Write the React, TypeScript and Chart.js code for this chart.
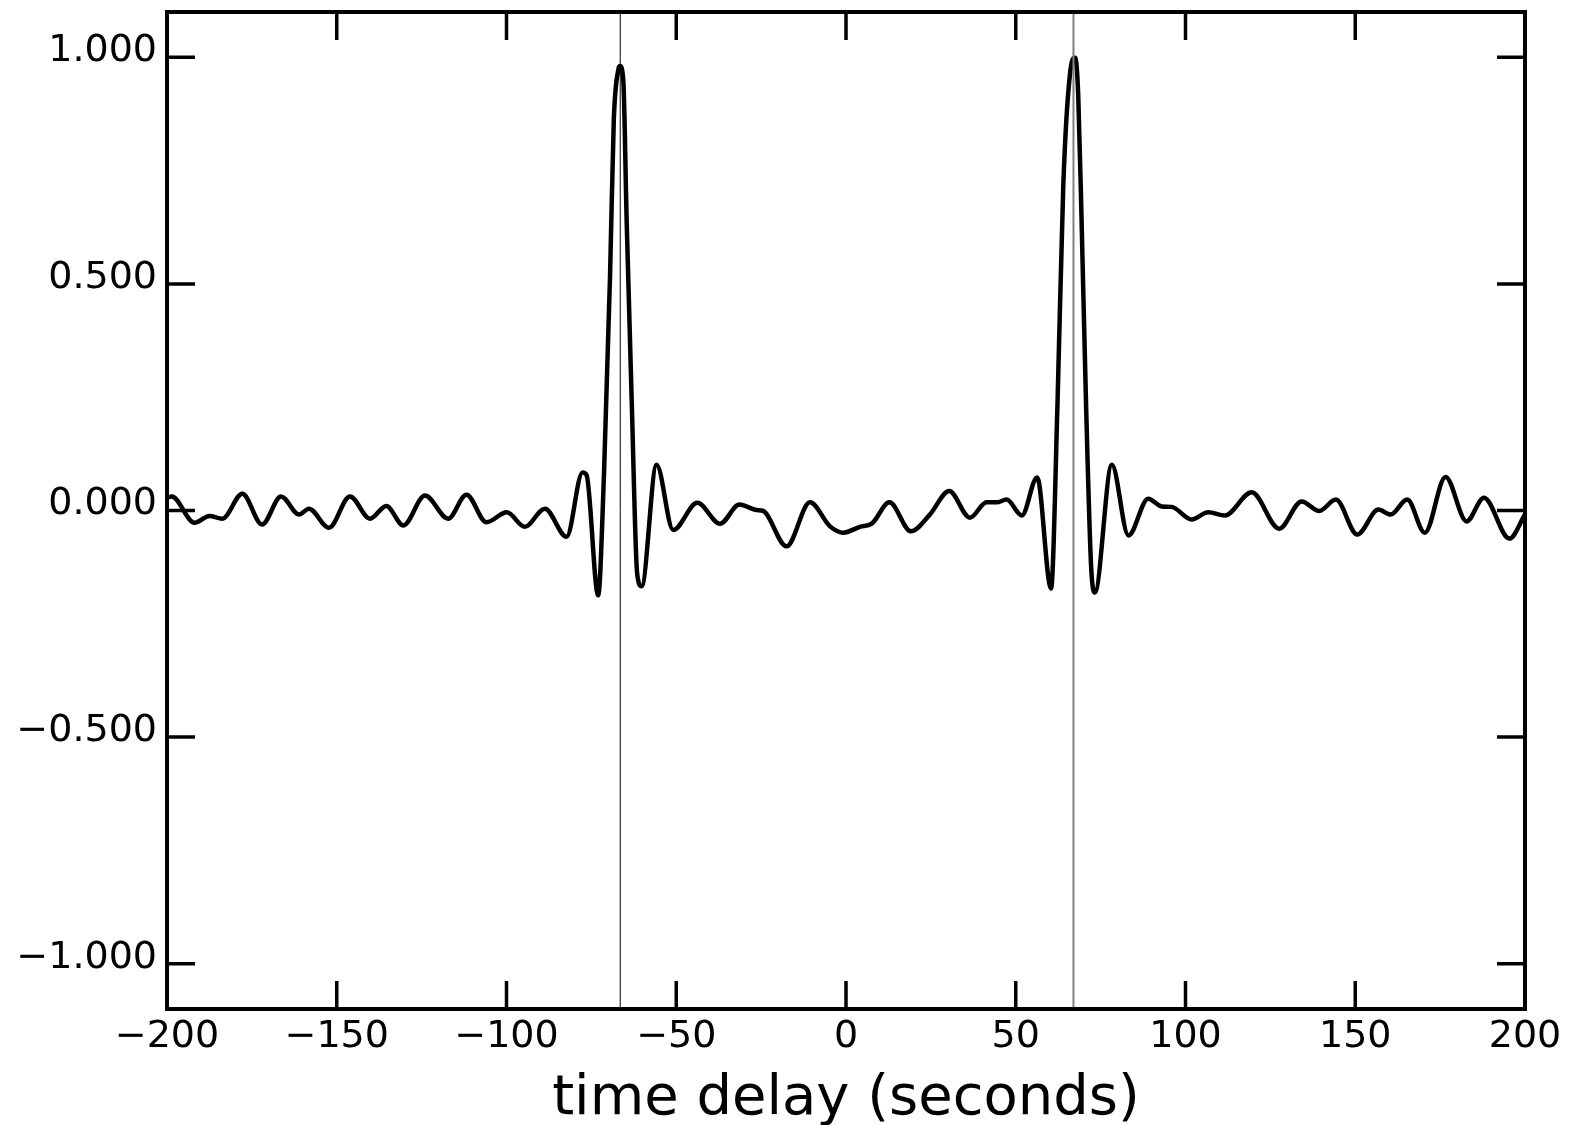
import React, { useEffect, useRef } from "react";
import { Chart, registerables } from "chart.js";

Chart.register(...registerables);

// ---- data ----
const timeDelay: number[] = [
  -200.0, -198.6, -191.9, -187.5, -183.7, -177.8, -172.0, -166.4, -161.1, -158.2,
  -152.3, -146.1, -140.2, -135.4, -130.4, -124.0, -117.2, -111.8, -105.9, -99.9,
  -94.6, -88.7, -82.3, -77.6, -76.4, -73.0, -71.3, -69.5, -68.4, -67.0,
  -66.6, -65.6, -64.6, -63.1, -61.5, -60.2, -55.8, -50.9, -43.8, -37.1,
  -31.4, -26.3, -24.4, -17.5, -10.6, -4.7, -0.8, 4.1, 7.6, 12.8,
  19.1, 24.7, 30.4, 36.5, 41.4, 44.4, 47.3, 51.8, 56.3, 60.4,
  62.3, 64.0, 66.0, 67.5, 68.4, 69.4, 70.7, 72.2, 73.3, 78.3,
  83.2, 89.0, 93.0, 95.9, 101.8, 106.7, 111.6, 119.5, 127.6, 134.2,
  139.4, 144.3, 150.6, 156.8, 160.4, 165.3, 170.5, 176.6, 182.8, 187.9,
  195.4, 200.0,
];
const correlation: number[] = [
  0.028, 0.031, -0.027, -0.012, -0.018, 0.037, -0.031, 0.031, -0.009, 0.004,
  -0.038, 0.031, -0.018, 0.01, -0.033, 0.033, -0.018, 0.035, -0.026, -0.004,
  -0.036, 0.004, -0.058, 0.084, 0.078, -0.187, 0.077, 0.518, 0.861, 0.975,
  0.981, 0.949, 0.637, 0.237, -0.14, -0.167, 0.101, -0.043, 0.017, -0.029,
  0.013, 0.001, -0.001, -0.079, 0.018, -0.035, -0.049, -0.036, -0.029, 0.018,
  -0.046, -0.009, 0.043, -0.016, 0.018, 0.018, 0.024, -0.011, 0.073, -0.172,
  0.237, 0.717, 0.965, 0.999, 0.917, 0.637, 0.237, -0.123, -0.181, 0.101,
  -0.055, 0.026, 0.009, 0.008, -0.02, -0.004, -0.011, 0.04, -0.04, 0.02,
  -0.001, 0.024, -0.053, 0.002, -0.009, 0.024, -0.049, 0.074, -0.024, 0.028,
  -0.062, -0.009,
];
const markerDelays: number[] = [-66.5, 67.0];
const markerColors: string[] = ["#000000", "#808080"];
const markerWidths: number[] = [1, 2];
const xTicks: number[] = [-200, -150, -100, -50, 0, 50, 100, 150, 200];
const yTicks: number[] = [-1, -0.5, 0, 0.5, 1];
const xRange: number[] = [-200, 200];
const yRange: number[] = [-1.1, 1.1];
const xTitle = "time delay (seconds)";

const minus = (s: string) => s.replace("-", "\u2212");

const framePlugin = {
  id: "frameTicks",
  afterDatasetsDraw(chart: any) {
    const { ctx, chartArea, scales } = chart;
    const { left, right, top, bottom } = chartArea;
    const len = 28;
    ctx.save();
    ctx.strokeStyle = "#000";
    ctx.lineWidth = 3.5;
    ctx.lineCap = "butt";
    ctx.beginPath();
    for (const v of xTicks) {
      const px = scales.x.getPixelForValue(v);
      ctx.moveTo(px, bottom);
      ctx.lineTo(px, bottom - len);
      ctx.moveTo(px, top);
      ctx.lineTo(px, top + len);
    }
    for (const v of yTicks) {
      const py = scales.y.getPixelForValue(v);
      ctx.moveTo(left, py);
      ctx.lineTo(left + len, py);
      ctx.moveTo(right, py);
      ctx.lineTo(right - len, py);
    }
    ctx.stroke();
    ctx.lineWidth = 4;
    ctx.strokeRect(left, top, right - left, bottom - top);
    ctx.restore();
  },
};

export default function App() {
  const ref = useRef<HTMLCanvasElement | null>(null);

  useEffect(() => {
    document.body.style.margin = "0";
    const canvas = ref.current;
    if (!canvas) return;

    const curve = timeDelay.map((x, i) => ({ x, y: correlation[i] }));
    const markerSets = markerDelays.map((d, i) => ({
      label: "marker" + i,
      data: [
        { x: d, y: yRange[0] },
        { x: d, y: yRange[1] },
      ],
      borderColor: markerColors[i],
      borderWidth: markerWidths[i],
      pointRadius: 0,
      fill: false,
      order: 0,
    }));

    const chart = new Chart(canvas, {
      type: "line",
      data: {
        datasets: [
          ...markerSets,
          {
            label: "correlation",
            data: curve,
            borderColor: "#000",
            borderWidth: 4.5,
            pointRadius: 0,
            fill: false,
            cubicInterpolationMode: "monotone",
            borderJoinStyle: "round",
            borderCapStyle: "round",
            order: 1,
          },
        ],
      } as any,
      options: {
        responsive: false,
        animation: false,
        devicePixelRatio: 1,
        layout: { padding: { top: 12, right: 45, left: 0, bottom: 0 } },
        plugins: {
          legend: { display: false },
          tooltip: { enabled: false },
        },
        scales: {
          x: {
            type: "linear",
            min: xRange[0],
            max: xRange[1],
            grid: { display: false, drawTicks: false },
            border: { display: false },
            afterFit: (s: any) => {
              s.height = 116;
              s.paddingLeft = 0;
              s.paddingRight = 0;
            },
            afterBuildTicks: (s: any) => {
              s.ticks = xTicks.map((v) => ({ value: v }));
            },
            ticks: {
              padding: 5,
              color: "#000",
              maxRotation: 0,
              autoSkip: false,
              font: { family: "DejaVu Sans", size: 38 },
              callback: (v: any) => minus(String(v)),
            },
            title: {
              display: true,
              text: xTitle,
              color: "#000",
              font: { family: "DejaVu Sans", size: 56, lineHeight: 0.9 },
              padding: { top: 0, bottom: 0 },
            },
          },
          y: {
            type: "linear",
            min: yRange[0],
            max: yRange[1],
            grid: { display: false, drawTicks: false },
            border: { display: false },
            afterFit: (s: any) => {
              s.width = 167;
              s.paddingTop = 0;
              s.paddingBottom = 0;
            },
            afterBuildTicks: (s: any) => {
              s.ticks = yTicks.map((v) => ({ value: v }));
            },
            ticks: {
              padding: 10,
              color: "#000",
              labelOffset: -6,
              autoSkip: false,
              font: { family: "DejaVu Sans", size: 38 },
              callback: (v: any) => minus(Number(v).toFixed(3)),
            },
          },
        },
      } as any,
      plugins: [framePlugin],
    });

    return () => chart.destroy();
  }, []);

  return (
    <canvas
      ref={ref}
      width={1570}
      height={1125}
      style={{ display: "block", width: 1570, height: 1125 }}
    />
  );
}
